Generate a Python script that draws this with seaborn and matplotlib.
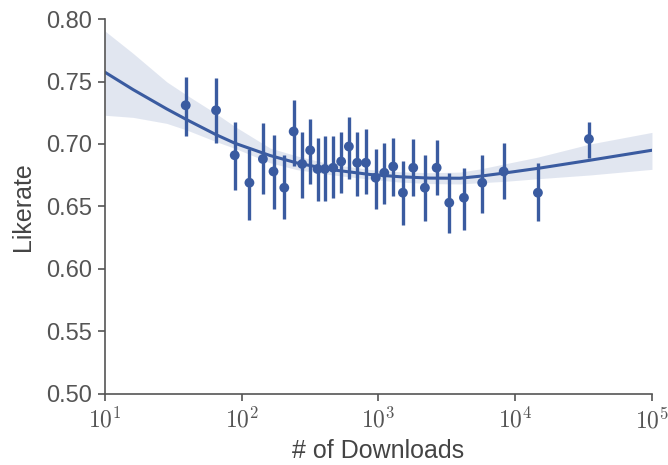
import numpy as np
import pandas as pd
import matplotlib
matplotlib.use("Agg")
import matplotlib.pyplot as plt
import matplotlib.ticker as mticker
import seaborn as sns

# Binned points: bin centre (# downloads), mean likerate, CI low, CI high
bin_x = [39, 65, 89, 114, 143, 171, 205, 240, 277, 317, 359, 406, 467, 534, 608,
         700, 810, 955, 1103, 1283, 1511, 1797, 2187, 2665, 3296, 4220, 5740, 8240,
         14660, 34600]
bin_y = [0.731, 0.727, 0.691, 0.669, 0.688, 0.678, 0.665, 0.710, 0.684, 0.695,
         0.680, 0.680, 0.681, 0.686, 0.698, 0.685, 0.685, 0.673, 0.677, 0.682,
         0.661, 0.681, 0.665, 0.681, 0.653, 0.657, 0.669, 0.678, 0.661, 0.704]
bin_lo = [0.706, 0.701, 0.663, 0.639, 0.660, 0.648, 0.640, 0.682, 0.657, 0.668,
          0.654, 0.654, 0.657, 0.661, 0.672, 0.658, 0.660, 0.648, 0.652, 0.658,
          0.635, 0.658, 0.638, 0.659, 0.629, 0.631, 0.645, 0.656, 0.638, 0.689]
bin_hi = [0.754, 0.753, 0.718, 0.696, 0.717, 0.707, 0.691, 0.735, 0.710, 0.720,
          0.705, 0.706, 0.706, 0.710, 0.722, 0.710, 0.712, 0.696, 0.701, 0.705,
          0.686, 0.704, 0.691, 0.703, 0.677, 0.681, 0.691, 0.701, 0.685, 0.718]

# Fitted trend and its confidence band
fit_x = [10, 16.1, 28.3, 39.6, 64.6, 89.3, 161, 252, 442, 867, 1436, 2383, 3945,
         5520, 8130, 14660, 35240, 100000]
fit_y = [0.7575, 0.7435, 0.7281, 0.7195, 0.7076, 0.7006, 0.6908, 0.6849, 0.6796,
         0.6756, 0.6738, 0.6727, 0.6726, 0.6742, 0.6766, 0.6805, 0.6870, 0.6950]
fit_lo = [0.7230, 0.7213, 0.7165, 0.7112, 0.7020, 0.6965, 0.6850, 0.6795, 0.6755,
          0.6718, 0.6695, 0.6683, 0.6680, 0.6690, 0.6700, 0.6722, 0.6752, 0.6797]
fit_hi = [0.7905, 0.7725, 0.7498, 0.7392, 0.7245, 0.7140, 0.6968, 0.6905, 0.6840,
          0.6796, 0.6778, 0.6770, 0.6775, 0.6800, 0.6838, 0.6895, 0.7000, 0.7093]

xticks = [10, 100, 1000, 10000, 100000]
xtick_labels = ["$10^{1}$", "$10^{2}$", "$10^{3}$", "$10^{4}$", "$10^{5}$"]
yticks = [0.50, 0.55, 0.60, 0.65, 0.70, 0.75, 0.80]

sns.set_theme(style="ticks", rc={
    "axes.edgecolor": "#555555",
    "axes.labelcolor": "#444444",
    "xtick.color": "#555555",
    "ytick.color": "#555555",
    "text.color": "#444444",
    "axes.linewidth": 1.2,
})
plt.rcParams["font.family"] = ["Liberation Sans", "DejaVu Sans"]
plt.rcParams["mathtext.fontset"] = "cm"

color = "#3A5BA0"

pts = pd.DataFrame({"x": bin_x, "y": bin_y, "lo": bin_lo, "hi": bin_hi})
fit = pd.DataFrame({"x": fit_x, "y": fit_y, "lo": fit_lo, "hi": fit_hi})

fig = plt.figure(figsize=(6.68, 4.65), dpi=100)
ax = fig.add_axes([0.157, 0.153, 0.819, 0.806])
ax.set_xscale("log")

ax.fill_between(fit["x"], fit["lo"], fit["hi"], color=color, alpha=0.15, linewidth=0)
sns.lineplot(data=fit, x="x", y="y", ax=ax, color=color, linewidth=2.2, sort=True)
ax.vlines(pts["x"], pts["lo"], pts["hi"], color=color, linewidth=2.4)
sns.scatterplot(data=pts, x="x", y="y", ax=ax, color=color, s=50, edgecolor="none",
                zorder=4)

ax.set_xlim(10, 100000)
ax.set_ylim(0.50, 0.80)
ax.xaxis.set_major_locator(mticker.FixedLocator(xticks))
ax.xaxis.set_minor_locator(mticker.NullLocator())
ax.set_xticklabels(xtick_labels)
ax.set_yticks(yticks)
ax.yaxis.set_major_formatter(mticker.FormatStrFormatter("%.2f"))
ax.tick_params(axis="both", length=5, width=1.2)
ax.tick_params(axis="y", labelsize=17, pad=4)
ax.tick_params(axis="x", labelsize=17, pad=5)
ax.set_xlabel("# of Downloads", fontsize=18, labelpad=4)
ax.set_ylabel("Likerate", fontsize=18, labelpad=8)
sns.despine(ax=ax)

fig.savefig("out.png", dpi=100)
